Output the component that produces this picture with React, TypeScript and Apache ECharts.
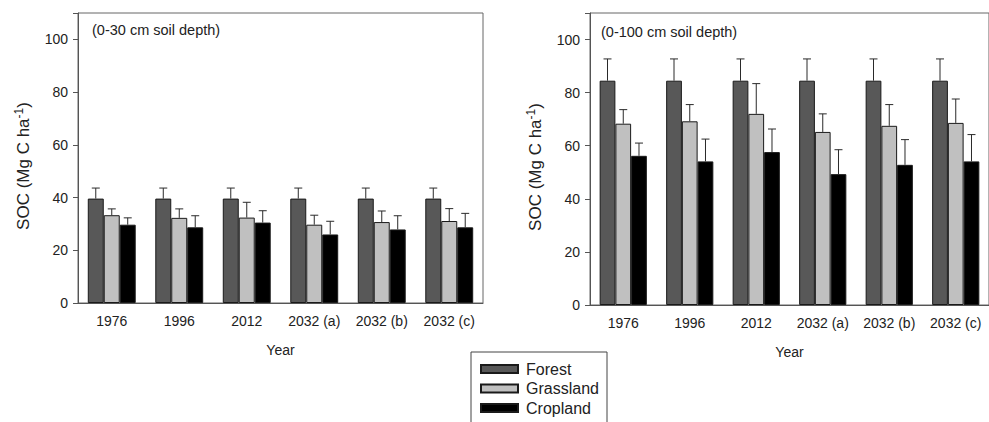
import React, { useEffect, useRef } from "react";
import * as echarts from "echarts";

const categories = ["1976", "1996", "2012", "2032 (a)", "2032 (b)", "2032 (c)"];
const landTypes = ["Forest", "Grassland", "Cropland"];
const landColors = ["#585858", "#c0c0c0", "#000000"];

// 0-30 cm soil depth (mean, error)
const forest30 = [39.6, 39.6, 39.6, 39.6, 39.6, 39.6];
const forest30Err = [4.0, 4.0, 4.0, 4.0, 4.0, 4.0];
const grass30 = [33.3, 32.3, 32.4, 29.7, 30.7, 31.1];
const grass30Err = [2.4, 3.4, 5.8, 3.6, 4.2, 4.7];
const crop30 = [29.7, 28.7, 30.5, 26.0, 27.9, 28.7];
const crop30Err = [2.6, 4.4, 4.5, 5.0, 5.2, 5.3];

// 0-100 cm soil depth (mean, error)
const forest100 = [84.5, 84.5, 84.5, 84.5, 84.5, 84.5];
const forest100Err = [8.2, 8.2, 8.2, 8.2, 8.2, 8.2];
const grass100 = [68.3, 69.2, 72.0, 65.2, 67.5, 68.6];
const grass100Err = [5.3, 6.3, 11.4, 6.8, 8.0, 9.0];
const crop100 = [56.2, 54.1, 57.6, 49.3, 52.8, 54.1];
const crop100Err = [4.8, 8.4, 8.7, 9.2, 9.5, 10.1];

const yTicks = [0, 20, 40, 60, 80, 100];
const panelLabels = ["(0-30 cm soil depth)", "(0-100 cm soil depth)"];

const FONT = "'Liberation Sans', Arial, sans-serif";
const TEXT = "#222";
const AXIS = "#555";
const GAP = 0.29;

export default function App() {
  const ref = useRef<HTMLDivElement>(null);
  useEffect(() => {
    if (!ref.current) return;
    const chart = echarts.init(ref.current, undefined, { renderer: "svg" });

    const panels = [
      { means: [forest30, grass30, crop30], errs: [forest30Err, grass30Err, crop30Err] },
      { means: [forest100, grass100, crop100], errs: [forest100Err, grass100Err, crop100Err] },
    ];

    const series: any[] = [];
    panels.forEach((p, pi) => {
      p.means.forEach((m, k) => {
        series.push({
          type: "bar",
          name: landTypes[k],
          xAxisIndex: pi,
          yAxisIndex: pi,
          data: m,
          barGap: "0%",
          barCategoryGap: GAP * 100 + "%",
          itemStyle: { color: landColors[k], borderColor: "#1a1a1a", borderWidth: 1 },
          z: 2,
        });
      });
      p.means.forEach((m, k) => {
        series.push({
          type: "custom",
          name: "err-" + pi + "-" + k,
          xAxisIndex: pi,
          yAxisIndex: pi,
          z: 3,
          silent: true,
          data: m.map((v, i) => [i, v, v + p.errs[k][i]]),
          renderItem: (params: any, api: any) => {
            const base = api.coord([api.value(0), api.value(1)]);
            const top = api.coord([api.value(0), api.value(2)]);
            const band = api.size([1, 0])[0];
            const bw = (band * (1 - GAP)) / 3;
            const x = base[0] + (k - 1) * bw;
            const cap = 4;
            const st = { stroke: "#2a2a2a", lineWidth: 1 };
            return {
              type: "group",
              children: [
                { type: "line", shape: { x1: x, y1: base[1], x2: x, y2: top[1] }, style: st },
                { type: "line", shape: { x1: x - cap, y1: top[1], x2: x + cap, y2: top[1] }, style: st },
              ],
            };
          },
        });
      });
    });

    const grids = [
      { left: 78, top: 13, width: 405, height: 290 },
      { left: 590, top: 13, width: 404, height: 292 },
    ];

    const option: any = {
      animation: false,
      textStyle: { fontFamily: FONT },
      title: panelLabels.map((t, i) => ({
        text: t,
        left: i === 0 ? 92 : 601,
        top: i === 0 ? 22 : 24,
        padding: 0,
        textStyle: { fontFamily: FONT, fontSize: 14.5, fontWeight: "normal", color: TEXT },
      })),
      grid: grids.map((g) => ({
        ...g,
        show: true,
        borderColor: "#666",
        borderWidth: 1,
        backgroundColor: "transparent",
        containLabel: false,
      })),
      legend: {
        orient: "vertical",
        left: 480,
        top: 361,
        data: landTypes,
        icon: "rect",
        itemWidth: 37,
        itemHeight: 8,
        itemGap: 3.5,
        padding: 0,
        selectedMode: false,
        textStyle: { fontFamily: FONT, fontSize: 16, color: TEXT, padding: [0, 0, 0, 3] },
      },
      graphic: [
        {
          type: "rect",
          shape: { x: 471, y: 352, width: 136, height: 90 },
          style: { fill: "none", stroke: "#444", lineWidth: 1 },
          silent: true,
        },
      ],
      xAxis: [0, 1].map((i) => ({
        type: "category",
        gridIndex: i,
        data: categories,
        name: "Year",
        nameLocation: "middle",
        nameGap: 40,
        nameTextStyle: { fontFamily: FONT, fontSize: 14, color: TEXT },
        axisLine: { lineStyle: { color: AXIS, width: 1 } },
        axisTick: { alignWithLabel: true, length: 5, lineStyle: { color: AXIS } },
        axisLabel: { fontFamily: FONT, fontSize: 14, color: TEXT, margin: 11, interval: 0 },
      })),
      yAxis: [0, 1].map((i) => ({
        type: "value",
        gridIndex: i,
        min: 0,
        max: 110,
        interval: 20,
        name: "SOC (Mg C ha{sup|-1})",
        nameLocation: "middle",
        nameGap: 44,
        nameRotate: 90,
        nameTextStyle: {
          fontFamily: FONT,
          fontSize: 17,
          color: TEXT,
          padding: [0, 16, 0, 0],
          rich: { sup: { fontFamily: FONT, fontSize: 12, color: TEXT, verticalAlign: "top", padding: [0, 0, 9, 0] } },
        },
        axisLine: { show: true, lineStyle: { color: AXIS, width: 1 } },
        axisTick: { show: true, length: 5, lineStyle: { color: AXIS } },
        axisLabel: {
          fontFamily: FONT,
          fontSize: 14,
          color: TEXT,
          margin: 10,
          formatter: (v: number) => (yTicks.includes(v) ? String(v) : ""),
        },
        splitLine: { show: false },
      })),
      series,
    };

    chart.setOption(option);
    return () => chart.dispose();
  }, []);

  return (
    <div
      ref={ref}
      style={{ position: "absolute", left: 0, top: 0, width: 989, height: 422, background: "#fff" }}
    />
  );
}
